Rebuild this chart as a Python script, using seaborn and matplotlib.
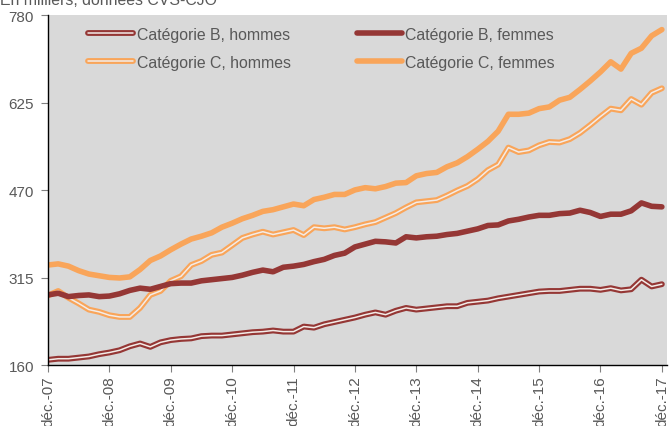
import matplotlib
matplotlib.use("Agg")
import matplotlib.pyplot as plt
import matplotlib.patheffects as pe
import pandas as pd
import seaborn as sns

# mois depuis déc.-07, un point tous les deux mois
mois = list(range(0, 121, 2))

b_hommes = [170, 172, 172, 174, 176, 180, 183, 187, 194, 199, 193, 201, 205, 207, 208, 212,
            213, 213, 215, 217, 219, 220, 222, 220, 220, 229, 227, 233, 237, 241, 245, 250,
            254, 250, 257, 262, 259, 261, 263, 265, 265, 271, 273, 275, 279, 282, 285, 288,
            291, 292, 292, 294, 296, 296, 294, 297, 293, 295, 312, 300, 304]
c_hommes = [284, 292, 280, 270, 259, 255, 249, 246, 246, 262, 285, 292, 310, 318, 338, 345,
            356, 360, 373, 386, 392, 397, 392, 396, 400, 391, 405, 403, 405, 401, 405, 410,
            414, 422, 430, 440, 449, 451, 453, 461, 470, 478, 490, 506, 516, 546, 538, 541,
            550, 556, 555, 561, 572, 586, 601, 615, 612, 632, 622, 643, 651]
b_femmes = [285, 288, 282, 284, 285, 282, 283, 287, 293, 297, 295, 300, 305, 306, 306, 310,
            312, 314, 316, 320, 325, 329, 326, 334, 336, 339, 344, 348, 355, 359, 370, 375,
            380, 379, 377, 388, 386, 388, 389, 392, 394, 398, 402, 408, 409, 416, 419, 423,
            426, 426, 429, 430, 435, 431, 424, 428, 428, 434, 448, 442, 441]
c_femmes = [338, 340, 336, 328, 322, 319, 316, 315, 317, 330, 346, 354, 365, 375, 384, 389,
            395, 405, 412, 420, 426, 433, 436, 441, 446, 443, 454, 458, 463, 463, 471, 475,
            473, 477, 483, 484, 496, 500, 502, 512, 519, 530, 543, 557, 575, 605, 605, 607,
            615, 618, 630, 635, 649, 664, 680, 698, 685, 713, 722, 744, 755]

etiquettes_x = ["déc.-07", "déc.-08", "déc.-09", "déc.-10", "déc.-11", "déc.-12",
                "déc.-13", "déc.-14", "déc.-15", "déc.-16", "déc.-17"]
ticks_y = [160, 315, 470, 625, 780]

rouge = "#953735"
orange = "#f9a55a"
gris_txt = "#595959"

sns.set_style("white")
plt.rcParams["font.family"] = ["Liberation Sans", "DejaVu Sans"]

fig, ax = plt.subplots(figsize=(6.69, 4.27), dpi=100)
fig.subplots_adjust(left=0.0717, right=0.997, top=0.9614, bottom=0.1417)
ax.set_facecolor("#d9d9d9")

df = pd.DataFrame({"mois": mois,
                   "Catégorie B, hommes": b_hommes,
                   "Catégorie C, hommes": c_hommes,
                   "Catégorie B, femmes": b_femmes,
                   "Catégorie C, femmes": c_femmes})

series = [("Catégorie B, hommes", rouge, True),
          ("Catégorie C, hommes", orange, True),
          ("Catégorie B, femmes", rouge, False),
          ("Catégorie C, femmes", orange, False)]

handles = []
for nom, couleur, double in series:
    if double:
        sns.lineplot(data=df, x="mois", y=nom, ax=ax, color="#f3ece8", lw=1.1, label=nom)
        ligne = ax.lines[-1]
        ligne.set_path_effects([pe.Stroke(linewidth=4.2, foreground=couleur), pe.Normal()])
    else:
        sns.lineplot(data=df, x="mois", y=nom, ax=ax, color=couleur, lw=4, label=nom)
        ligne = ax.lines[-1]
    ligne.set_solid_joinstyle("round")
    handles.append(ligne)

ax.set_xlim(0, 121)
ax.set_ylim(160, 780)
ax.set_yticks(ticks_y)
ax.set_xticks(range(0, 121, 12))
ax.set_xticklabels(etiquettes_x, rotation=90)
ax.set_xlabel("")
ax.set_ylabel("")

for s in ["top", "right"]:
    ax.spines[s].set_visible(False)
for s in ["left", "bottom"]:
    ax.spines[s].set_color("black")
    ax.spines[s].set_linewidth(1)

ax.tick_params(axis="y", direction="out", length=5, width=0.8, color="#808080",
               labelsize=11, labelcolor=gris_txt, pad=5, left=True)
ax.tick_params(axis="x", direction="out", length=5, width=0.8, color="#808080",
               labelsize=11, labelcolor=gris_txt, pad=2, bottom=True)

ax.legend(handles=handles, labels=[s[0] for s in series], ncol=2, frameon=False,
          loc="upper left", bbox_to_anchor=(0.042, 1.008), fontsize=11.4,
          labelcolor=gris_txt, handlelength=2.85, handletextpad=0.2,
          columnspacing=4.2, labelspacing=0.82)

fig.text(0.0, 1 - 5 / 427, "En milliers, données CVS-CJO", va="baseline", ha="left",
         fontsize=11.4, color=gris_txt)

fig.savefig("out.png", dpi=100)
